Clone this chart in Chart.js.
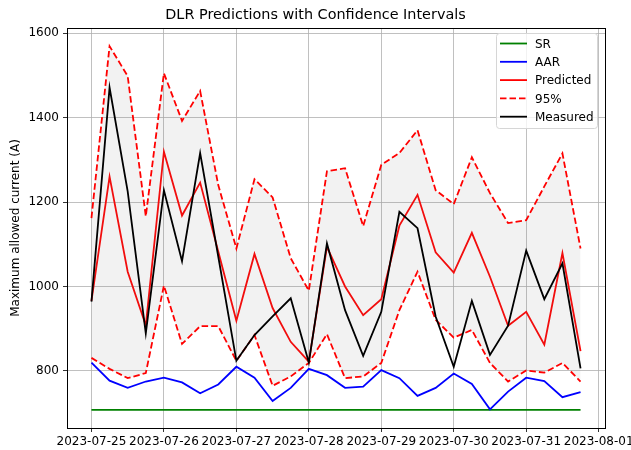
<!DOCTYPE html>
<html>
<head>
<meta charset="utf-8">
<script src="https://cdn.jsdelivr.net/npm/chart.js@4.4.0/dist/chart.umd.min.js"></script>
<style>
  body { margin: 0; background: #fff; }
  #wrap { width: 631px; height: 450px; }
</style>
</head>
<body>
<div id="wrap"><canvas id="myChart" width="631" height="450"></canvas></div>
<script>
// 6-hourly samples
var times = [
  "2023-07-25T00:00", "2023-07-25T06:00", "2023-07-25T12:00", "2023-07-25T18:00",
  "2023-07-26T00:00", "2023-07-26T06:00", "2023-07-26T12:00", "2023-07-26T18:00",
  "2023-07-27T00:00", "2023-07-27T06:00", "2023-07-27T12:00", "2023-07-27T18:00",
  "2023-07-28T00:00", "2023-07-28T06:00", "2023-07-28T12:00", "2023-07-28T18:00",
  "2023-07-29T00:00", "2023-07-29T06:00", "2023-07-29T12:00", "2023-07-29T18:00",
  "2023-07-30T00:00", "2023-07-30T06:00", "2023-07-30T12:00", "2023-07-30T18:00",
  "2023-07-31T00:00", "2023-07-31T06:00", "2023-07-31T12:00", "2023-07-31T18:00"
];
var dayTicks = ["2023-07-25", "2023-07-26", "2023-07-27", "2023-07-28",
                "2023-07-29", "2023-07-30", "2023-07-31", "2023-08-01"];
var yTicks = [800, 1000, 1200, 1400, 1600];

var sr = [708, 708, 708, 708, 708, 708, 708, 708, 708, 708, 708, 708, 708, 708,
          708, 708, 708, 708, 708, 708, 708, 708, 708, 708, 708, 708, 708, 708];
var aar = [820, 777, 760, 775, 784, 773, 747, 768, 810, 784, 729, 760, 805, 790,
           760, 763, 802, 783, 741, 760, 794, 769, 709, 751, 784, 776, 738, 750];
var predicted = [966, 1260, 1035, 908, 1319, 1168, 1246, 1083, 919, 1077, 949, 869, 822, 1094,
                 1000, 932, 970, 1144, 1217, 1081, 1033, 1127, 1023, 907, 940, 862, 1079, 847];
var upper95 = [1162, 1569, 1498, 1166, 1505, 1392, 1463, 1240, 1090, 1254, 1211, 1067, 990, 1273,
               1280, 1143, 1288, 1316, 1370, 1228, 1195, 1306, 1221, 1150, 1157, 1237, 1315, 1090];
var lower95 = [831, 805, 783, 795, 1002, 864, 906, 906, 824, 885, 765, 787, 819, 887,
               783, 787, 819, 944, 1035, 921, 879, 897, 819, 775, 801, 796, 819, 775];
var measured = [964, 1471, 1225, 889, 1228, 1060, 1316, 1071, 824, 885, 929, 972, 820, 1102,
                944, 836, 940, 1177, 1138, 929, 810, 966, 838, 907, 1085, 970, 1055, 806];

var FONT = "'DejaVu Sans', sans-serif";
var xs = times.map(function (s) { return Date.parse(s + "Z"); });
function pts(vals) {
  return vals.map(function (v, i) { return { x: xs[i], y: v }; });
}

// matplotlib style 5% margins
var xSpan = xs[xs.length - 1] - xs[0];
var xMin = xs[0] - 0.05 * xSpan, xMax = xs[xs.length - 1] + 0.05 * xSpan;
var allY = sr.concat(aar, predicted, upper95, lower95, measured);
var yLo = Math.min.apply(null, allY), yHi = Math.max.apply(null, allY);
var yMin = yLo - 0.05 * (yHi - yLo), yMax = yHi + 0.05 * (yHi - yLo);

var frameAndLegend = {
  id: "frameAndLegend",
  afterDraw: function (chart) {
    var ctx = chart.ctx, a = chart.chartArea;
    ctx.save();
    ctx.strokeStyle = "#000";
    ctx.lineWidth = 1;
    ctx.strokeRect(Math.round(a.left) + 0.5, Math.round(a.top) + 0.5,
                   Math.round(a.right - a.left), Math.round(a.bottom - a.top));

    var items = chart.data.datasets.filter(function (d) { return d.inLegend; });
    items.sort(function (p, q) { return p.legendPos - q.legendPos; });
    var w = 101, h = 95;
    var x0 = Math.round(a.right) - 8 - w, y0 = Math.round(a.top) + 5;
    ctx.beginPath();
    ctx.roundRect(x0 + 0.5, y0 + 0.5, w, h, 3);
    ctx.fillStyle = "rgba(255,255,255,0.8)";
    ctx.fill();
    ctx.strokeStyle = "#d6d6d6";
    ctx.stroke();

    ctx.font = "12px " + FONT;
    ctx.textBaseline = "middle";
    items.forEach(function (d, i) {
      var yy = y0 + 10.5 + i * 18.3;
      ctx.beginPath();
      ctx.setLineDash(d.borderDash || []);
      ctx.strokeStyle = d.borderColor;
      ctx.lineWidth = d.borderWidth;
      ctx.moveTo(x0 + 4, yy);
      ctx.lineTo(x0 + 31, yy);
      ctx.stroke();
      ctx.setLineDash([]);
      ctx.fillStyle = "#000";
      ctx.fillText(d.label, x0 + 39, yy + 1);
    });
    ctx.restore();
  }
};

var ctx = document.getElementById("myChart").getContext("2d");
var myChart = new Chart(ctx, {
  type: "line",
  data: {
    datasets: [
      { label: "SR", data: pts(sr), borderColor: "#008000", borderWidth: 1.8,
        order: 6, inLegend: true, legendPos: 0 },
      { label: "AAR", data: pts(aar), borderColor: "#0000ff", borderWidth: 1.8,
        order: 5, inLegend: true, legendPos: 1 },
      { label: "Predicted", data: pts(predicted), borderColor: "#ff0000", borderWidth: 1.8,
        order: 4, inLegend: true, legendPos: 2 },
      { label: "95%", data: pts(upper95), borderColor: "#ff0000", borderWidth: 1.8,
        borderDash: [6.5, 3], fill: "+1", backgroundColor: "rgba(128,128,128,0.1)",
        order: 3, inLegend: true, legendPos: 3 },
      { label: "95% low", data: pts(lower95), borderColor: "#ff0000", borderWidth: 1.8,
        borderDash: [6.5, 3], order: 2 },
      { label: "Measured", data: pts(measured), borderColor: "#000000", borderWidth: 1.8,
        order: 1, inLegend: true, legendPos: 4 }
    ]
  },
  options: {
    responsive: false,
    animation: false,
    layout: { padding: { left: 0, right: 0, top: 0, bottom: 0 } },
    elements: { point: { radius: 0 }, line: { tension: 0 } },
    plugins: {
      legend: { display: false },
      tooltip: { enabled: false },
      title: {
        display: true,
        text: "DLR Predictions with Confidence Intervals",
        color: "#000",
        font: { family: FONT, size: 14.4, weight: "normal" },
        padding: { top: 7, bottom: 3.7 }
      }
    },
    scales: {
      x: {
        type: "linear",
        min: xMin,
        max: xMax,
        afterBuildTicks: function (axis) {
          axis.ticks = dayTicks.map(function (d) { return { value: Date.parse(d + "T00:00Z") }; });
        },
        afterFit: function (scale) {
          scale.height = 22;
          scale.paddingLeft = 0;
          scale.paddingRight = 26;
        },
        border: { display: false },
        grid: { color: "#b0b0b0", lineWidth: 0.8, tickColor: "#000", tickLength: 4 },
        ticks: {
          color: "#000",
          font: { family: FONT, size: 12 },
          padding: 3,
          maxRotation: 0,
          autoSkip: false,
          callback: function (v) { return new Date(v).toISOString().slice(0, 10); }
        }
      },
      y: {
        min: yMin,
        max: yMax,
        afterBuildTicks: function (axis) {
          axis.ticks = yTicks.map(function (v) { return { value: v }; });
        },
        afterFit: function (scale) { scale.width = 67; },
        border: { display: false },
        grid: { color: "#b0b0b0", lineWidth: 0.8, tickColor: "#000", tickLength: 4 },
        title: {
          display: true,
          text: "Maximum allowed current (A)",
          color: "#000",
          font: { family: FONT, size: 12 },
          padding: { top: 9, bottom: 0 }
        },
        ticks: {
          color: "#000",
          font: { family: FONT, size: 12 },
          padding: 4,
          callback: function (v) { return String(v); }
        }
      }
    }
  },
  plugins: [frameAndLegend]
});
</script>
</body>
</html>
